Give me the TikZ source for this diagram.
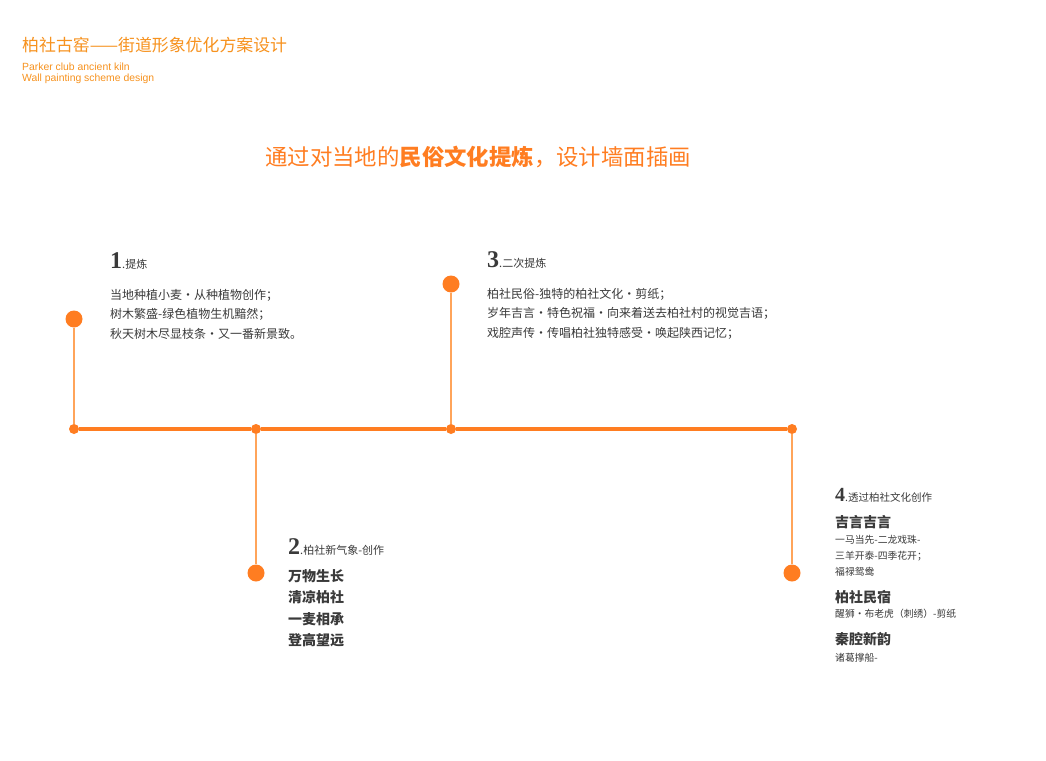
\documentclass[tikz,border=0pt]{standalone}
\usepackage{fontspec}
\setmainfont{Noto Sans CJK SC}
\newfontfamily\numfont{Liberation Serif}
\newfontfamily\enfont{Liberation Sans}
\usetikzlibrary{positioning}
\definecolor{accent}{HTML}{FF7D21}
\definecolor{stemline}{HTML}{FFA45A}
\definecolor{titleorange}{HTML}{F7921E}
\definecolor{bodytext}{HTML}{3A3A3A}

\begin{document}
\begin{tikzpicture}[
    x=1pt, y=-1pt,
    bigdot/.style={circle, fill=accent, inner sep=0pt, minimum size=17pt},
    smalldot/.style={circle, fill=accent, inner sep=0pt, minimum size=10pt},
    mainline/.style={accent, line width=4pt},
    stem/.style={stemline, line width=1.5pt},
    stepnum/.style={anchor=base west, inner sep=0pt, text=bodytext, font=\numfont\bfseries\fontsize{24}{24}\selectfont},
    bodyblock/.style={anchor=base west, inner sep=0pt, align=left, text=bodytext, font=\fontsize{12}{19.3}\selectfont},
    boldblock/.style={anchor=base west, inner sep=0pt, align=left, text=bodytext, font=\bfseries\fontsize{14}{21.3}\selectfont},
    smallblock/.style={anchor=base west, inner sep=0pt, align=left, text=bodytext, font=\fontsize{9.8}{16}\selectfont}
]
\useasboundingbox[fill=white] (0,0) rectangle (1046,760);

% header (multi-line nodes sit on their last baseline)
\node[anchor=west, inner sep=0pt, text=titleorange, font=\fontsize{16.9}{16.9}\selectfont] (title) at (22,45) {柏社古窑——街道形象优化方案设计};
\node[anchor=base west, inner sep=0pt, text=titleorange, align=left, font=\enfont\fontsize{10.4}{11}\selectfont] (subtitle) at (22,81.5) {Parker club ancient kiln\\Wall painting scheme design};
\node[inner sep=0pt, text=accent, font=\fontsize{22.4}{22.4}\selectfont] (headline) at (478,157) {通过对当地的\textbf{民俗文化提炼}，设计墙面插画};

% timeline
\node[smalldot] (t1) at (74,429) {};
\node[smalldot] (t2) at (256,429) {};
\node[smalldot] (t3) at (451,429) {};
\node[smalldot] (t4) at (792,429) {};
\node[bigdot] (p1) at (74,319) {};
\node[bigdot] (p3) at (451,284) {};
\node[bigdot] (p2) at (256,573) {};
\node[bigdot] (p4) at (792,573) {};

\draw[stem] (p1) -- (t1);
\draw[stem] (p3) -- (t3);
\draw[stem] (t2) -- (p2);
\draw[stem] (t4) -- (p4);
\draw[mainline] (t1) -- (t2) -- (t3) -- (t4);

% step 1
\node[stepnum] (s1) at (110,268) {1{\rmfamily\mdseries\fontsize{11}{11}\selectfont .提炼}};
\node[bodyblock] (s1text) at (110,338) {当地种植小麦·从种植物创作；\\树木繁盛-绿色植物生机黯然；\\秋天树木尽显枝条·又一番新景致。};

% step 3
\node[stepnum] (s3) at (487,267) {3{\rmfamily\mdseries\fontsize{11}{11}\selectfont .二次提炼}};
\node[bodyblock] (s3text) at (487,337) {柏社民俗-独特的柏社文化·剪纸；\\岁年吉言·特色祝福·向来着送去柏社村的视觉吉语；\\戏腔声传·传唱柏社独特感受·唤起陕西记忆；};

% step 2
\node[stepnum] (s2) at (288,554) {2{\rmfamily\mdseries\fontsize{11}{11}\selectfont .柏社新气象-创作}};
\node[boldblock] (s2text) at (288,645.5) {万物生长\\清凉柏社\\一麦相承\\登高望远};

% step 4
\node[stepnum, font=\numfont\bfseries\fontsize{20}{20}\selectfont] (s4) at (835,501) {4{\rmfamily\mdseries\fontsize{10.5}{10.5}\selectfont .透过柏社文化创作}};
\node[boldblock] (g1) at (835,527) {吉言吉言};
\node[smallblock] (g1text) at (835,575) {一马当先-二龙戏珠-\\三羊开泰-四季花开；\\福禄鸳鸯};
\node[boldblock] (g2) at (835,602) {柏社民宿};
\node[smallblock] (g2text) at (835,617) {醒狮·布老虎（刺绣）-剪纸};
\node[boldblock] (g3) at (835,644) {秦腔新韵};
\node[smallblock] (g3text) at (835,661) {诸葛撑船-};
\end{tikzpicture}
\end{document}
